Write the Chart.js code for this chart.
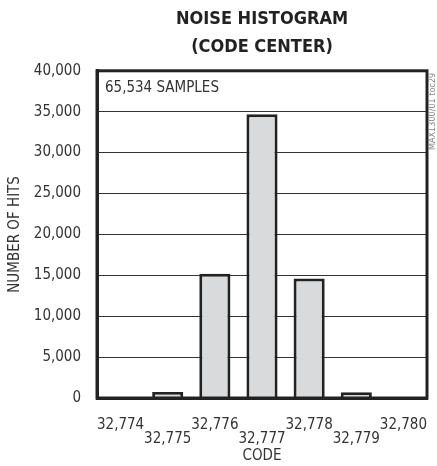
<!DOCTYPE html>
<html>
<head>
<meta charset="utf-8">
<script src="https://cdn.jsdelivr.net/npm/chart.js@4.4.1/dist/chart.umd.min.js"></script>
<style>
    html, body { margin: 0; padding: 0; background: #fff; }
    #wrap { width: 437px; height: 466px; }
</style>
</head>
<body>
<div id="wrap"><canvas id="hist" width="437" height="466"></canvas></div>
<script>
// Noise histogram (code center)

const CODES = ['32,774', '32,775', '32,776', '32,777', '32,778', '32,779', '32,780'];
const HITS = [0, 720, 15200, 34700, 14600, 700, 0];
const TITLE_LINES = ['NOISE HISTOGRAM', '(CODE CENTER)'];
const SAMPLES_NOTE = '65,534 SAMPLES';
const FIG_TAG = 'MAX1300/01 toc29';

const FONT = '"Liberation Sans Narrow", "DejaVu Sans Condensed", sans-serif';
const INK = '#222';

// --- Extra drawing: frame, inside note, figure tag ---

const framePlugin = {
    id: 'frame',
    afterDraw(chart) {
        const { ctx, chartArea: a } = chart;
        ctx.save();
        ctx.strokeStyle = INK;
        ctx.lineWidth = 3;
        ctx.strokeRect(a.left, a.top, a.right - a.left, a.bottom - a.top);

        ctx.fillStyle = '#333';
        ctx.font = '15px ' + FONT;
        ctx.textBaseline = 'middle';
        ctx.textAlign = 'left';
        ctx.fillText(SAMPLES_NOTE, a.left + 8, a.top + 17);

        ctx.fillStyle = '#888';
        ctx.font = '9px ' + FONT;
        ctx.translate(a.right + 6, a.top + 2);
        ctx.rotate(-Math.PI / 2);
        ctx.textAlign = 'right';
        ctx.fillText(FIG_TAG, 0, 0);
        ctx.restore();
    },
};

const ctx = document.getElementById('hist').getContext('2d');

new Chart(ctx, {
    type: 'bar',
    data: {
        labels: CODES,
        datasets: [{
            data: HITS,
            backgroundColor: '#d9dadc',
            borderColor: INK,
            borderWidth: 3,
            barPercentage: 0.66,
            categoryPercentage: 1,
        }],
    },
    options: {
        responsive: false,
        animation: false,
        layout: { padding: { left: 0, right: 10, top: 0, bottom: 0 } },
        plugins: {
            legend: { display: false },
            tooltip: { enabled: false },
            title: {
                display: true,
                text: TITLE_LINES,
                fullSize: false,
                color: INK,
                font: { family: FONT, size: 18, weight: 'bold', lineHeight: 1.55 },
                padding: { top: 5, bottom: 10 },
            },
        },
        scales: {
            x: {
                grid: { display: false, drawTicks: false },
                border: { color: INK, width: 3 },
                ticks: {
                    color: '#333',
                    font: { family: FONT, size: 15, lineHeight: 0.93 },
                    padding: 20,
                    maxRotation: 0,
                    autoSkip: false,
                    callback: function (v, i) {
                        const lbl = this.getLabelForValue(v);
                        return i % 2 === 1 ? ['', lbl] : lbl;
                    },
                },
                title: {
                    display: true,
                    text: 'CODE',
                    color: '#333',
                    font: { family: FONT, size: 15 },
                    padding: { top: 0, bottom: 1 },
                },
                afterFit: (s) => {
                    s.height = 68;
                    s.paddingLeft = 0;
                    s.paddingRight = 0;
                },
            },
            y: {
                min: 0,
                max: 40000,
                grid: { color: '#333', lineWidth: 1, drawTicks: false },
                border: { color: INK, width: 3 },
                ticks: {
                    stepSize: 5000,
                    color: '#333',
                    padding: 16,
                    font: { family: FONT, size: 15 },
                    callback: (v) => v.toLocaleString('en-US'),
                },
                title: {
                    display: true,
                    text: 'NUMBER OF HITS',
                    color: '#333',
                    font: { family: FONT, size: 15 },
                    padding: { top: 6, bottom: 0 },
                },
                afterFit: (s) => { s.width = 97; },
            },
        },
    },
    plugins: [framePlugin],
});
</script>
</body>
</html>
